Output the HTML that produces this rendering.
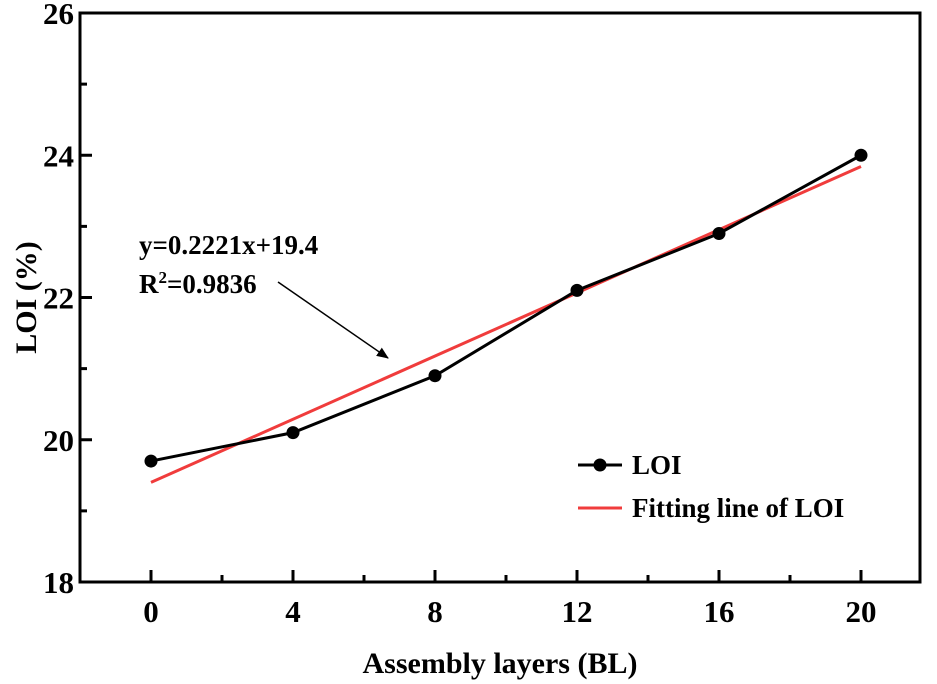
<!DOCTYPE html>
<html><head><meta charset="utf-8"><style>body{margin:0;background:#fff}svg{display:block}</style></head>
<body>
<svg id="chart" width="937" height="684" viewBox="0 0 937 684" xmlns="http://www.w3.org/2000/svg">
<defs><marker id="ah" markerWidth="12" markerHeight="10" refX="11" refY="5" orient="auto" markerUnits="userSpaceOnUse"><path d="M0,0 L12,5 L0,10 Z" fill="#000"/></marker></defs>
<g id="g" font-family="'Liberation Serif', 'DejaVu Serif', 'Times New Roman', serif" font-weight="bold" fill="#000"></g>
</svg>
<script>
const xs=[0,4,8,12,16,20];
const loi=[19.7,20.1,20.9,22.1,22.9,24.0];
const xTicks=[0,4,8,12,16,20];
const yTicks=[18,20,22,24,26];
const slope=0.2221, intercept=19.4;
const L=80,R=920,T=13,B=582;
const X=v=>151+v*35.5;
const Y=v=>B-(v-18)*(B-T)/8;
const g=document.getElementById('g');
const ns='http://www.w3.org/2000/svg';
function mk(t,a,txt){const e=document.createElementNS(ns,t);for(const k in a)e.setAttribute(k,a[k]);if(txt!=null)e.textContent=txt;g.appendChild(e);return e;}
let e;
e=mk('rect',{x:L,y:T,width:R-L,height:B-T,fill:'none',stroke:'#000','stroke-width':3});


yTicks.forEach((v,i)=>{
  e=mk('line',{x1:L,x2:L+12,y1:Y(v),y2:Y(v),stroke:'#000','stroke-width':3});
  
  
  if(i<yTicks.length-1){e=mk('line',{x1:L,x2:L+7,y1:Y(v+1),y2:Y(v+1),stroke:'#000','stroke-width':3});
  
  }
  e=mk('text',{x:L-6,y:Y(v)+11,'text-anchor':'end','font-size':31},v);
  
  
});
xTicks.forEach((v,i)=>{
  e=mk('line',{x1:X(v),x2:X(v),y1:B,y2:B-12,stroke:'#000','stroke-width':3});
  
  
  if(i<xTicks.length-1){e=mk('line',{x1:X(v+2),x2:X(v+2),y1:B,y2:B-7,stroke:'#000','stroke-width':3});
  
  }
  e=mk('text',{x:X(v),y:B+40,'text-anchor':'middle','font-size':31},v);
  
  
});
e=mk('text',{x:(L+R)/2,y:673,'text-anchor':'middle','font-size':30},'Assembly layers (BL)');


e=mk('text',{x:0,y:0,'text-anchor':'middle','font-size':30,transform:'translate(36,'+((T+B)/2)+') rotate(-90)'},'LOI (%)');


e=mk('line',{x1:X(0),y1:Y(intercept),x2:X(20),y2:Y(slope*20+intercept),stroke:'#f03c3c','stroke-width':3});


e=mk('polyline',{points:xs.map((x,i)=>X(x)+','+Y(loi[i])).join(' '),fill:'none',stroke:'#000','stroke-width':3});


xs.forEach((x,i)=>{e=mk('circle',{cx:X(x),cy:Y(loi[i]),r:6.5,fill:'#000'});

});
e=mk('line',{x1:278,y1:282,x2:388,y2:358,stroke:'#000','stroke-width':1.5,'marker-end':'url(#ah)'});


e=mk('text',{x:139,y:254,'font-size':27},'y=0.2221x+19.4');


e=mk('text',{x:139,y:293,'font-size':27},'R');


const t=document.createElementNS(ns,'tspan');t.setAttribute('dy','-10');t.setAttribute('font-size','17');t.textContent='2';e.appendChild(t);
const t2=document.createElementNS(ns,'tspan');t2.setAttribute('dy','10');t2.textContent='=0.9836';e.appendChild(t2);
e=mk('line',{x1:578,x2:622,y1:465,y2:465,stroke:'#000','stroke-width':3});


e=mk('circle',{cx:600,cy:465,r:6.5,fill:'#000'});


e=mk('text',{x:632,y:474,'font-size':27},'LOI');


e=mk('line',{x1:578,x2:622,y1:508,y2:508,stroke:'#f03c3c','stroke-width':3});


e=mk('text',{x:632,y:517,'font-size':27},'Fitting line of LOI');


</script>
</body></html>
